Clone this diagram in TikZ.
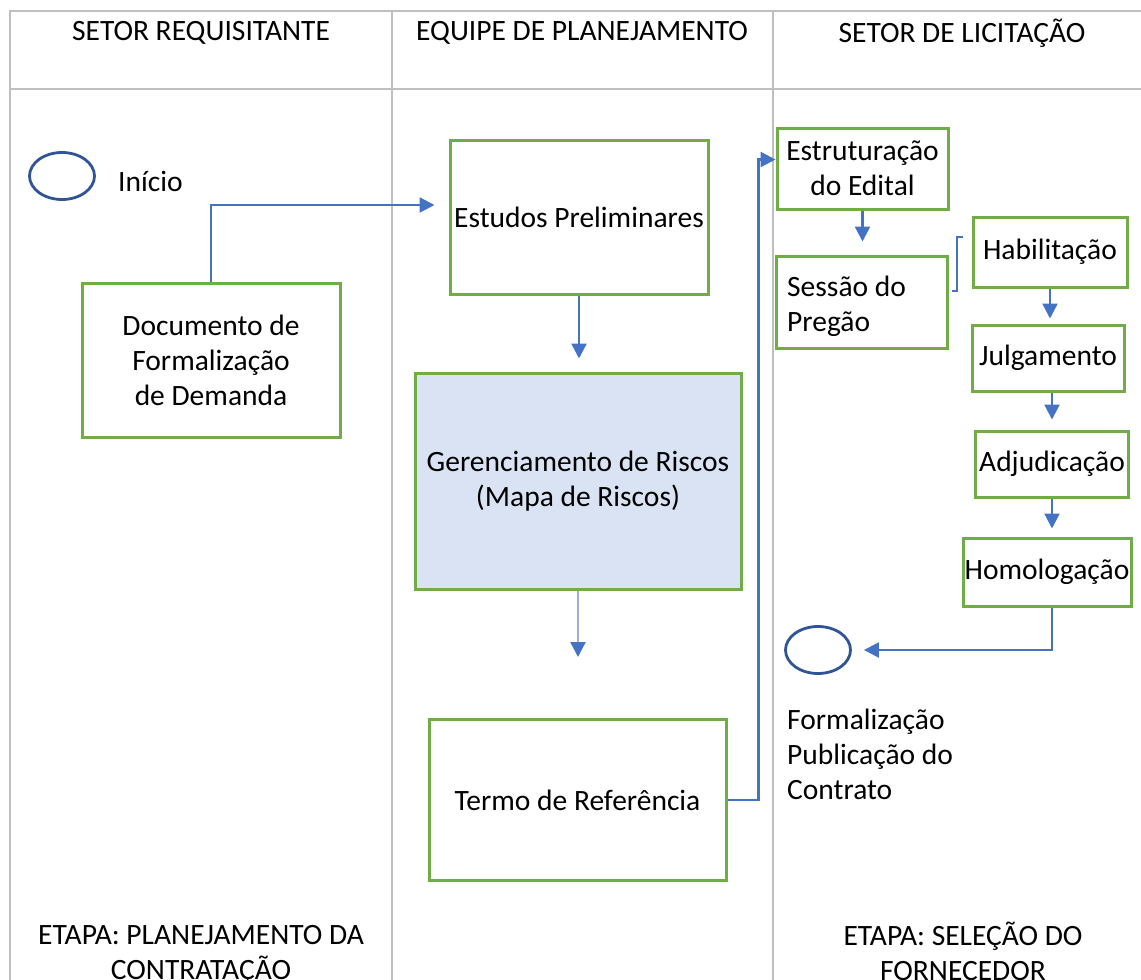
\documentclass[tikz,border=0pt]{standalone}
\usepackage{fontspec}
\setmainfont{Carlito}
\usetikzlibrary{shapes.geometric}
\usetikzlibrary{arrows.meta}
\usetikzlibrary{positioning}
\usetikzlibrary{calc}

\definecolor{boxgreen}{RGB}{112,173,71}
\definecolor{arrowblue}{RGB}{68,114,196}
\definecolor{ovalblue}{RGB}{47,85,151}
\definecolor{riskfill}{RGB}{218,227,243}
\definecolor{lanegray}{RGB}{191,191,191}

\begin{document}
\begin{tikzpicture}[
                x=1pt, y=-1pt,
                every node/.style={font=\fontsize{29.5}{35}\selectfont, align=center},
                stepbox/.style={draw=boxgreen, line width=3pt, inner sep=0pt},
                terminal/.style={draw=ovalblue, line width=2.8pt, ellipse, minimum width=65pt, minimum height=47pt},
                flow/.style={draw=arrowblue, line width=2.4pt, -{Triangle[length=15pt,width=15pt]}},
                lane/.style={draw=lanegray, line width=2.2pt}
            ]

            \useasboundingbox (0,0) rectangle (1141,980);

            % Swimlane grid
            \draw[lane] (1141,11) -- (10,11) -- (10,980);
            \draw[lane] (10,89) -- (1141,89);
            \draw[lane] (392,11) -- (392,980);
            \draw[lane] (773,11) -- (773,980);

            % Lane headers
            \node (lane1) at (201,33) {SETOR REQUISITANTE};
            \node (lane2) at (582,33) {EQUIPE DE PLANEJAMENTO};
            \node (lane3) at (962,33) {SETOR DE LICITAÇÃO};

            % Define nodes
            \node[terminal] (inicio) at (62,176) {};
            \node[right=22pt of inicio, inner sep=0pt, yshift=-5pt] (inicioText) {Início};
            \node[stepbox, minimum width=258pt, minimum height=154pt] (dfd) at (211,360) {Documento de\\Formalização\\de Demanda};
            \node[stepbox, minimum width=258pt, minimum height=154pt] (estudos) at (579,217) {Estudos Preliminares};
            \node[stepbox, fill=riskfill, minimum width=326pt, minimum height=216pt] (riscos) at (578,481) {Gerenciamento de Riscos\\(Mapa de Riscos)};
            \node[stepbox, minimum width=297pt, minimum height=161pt] (termo) at (577.5,800) {Termo de Referência};
            \node[stepbox, minimum width=171pt, minimum height=81pt] (edital) at (862.5,168.5) {Estruturação\\do Edital};
            \node[stepbox, minimum width=171pt, minimum height=92pt] (sessao) at (861.5,302) {};
            \node[align=left, anchor=west, inner sep=0pt] (sessaoText) at (787,306) {Sessão do\\Pregão};
            \node[stepbox, minimum width=154pt, minimum height=70pt] (habil) at (1050,252) {Habilitação};
            \node[stepbox, minimum width=152pt, minimum height=66pt] (julg) at (1048,358) {Julgamento};
            \node[stepbox, minimum width=153pt, minimum height=66pt] (adjud) at (1052,464) {Adjudicação};
            \node[stepbox, minimum width=168pt, minimum height=68pt] (homol) at (1047,572) {Homologação};
            \node[terminal] (fim) at (818,650) {};
            \node[align=left, anchor=west, inner sep=0pt] (fimText) at (787,754) {Formalização\\Publicação do\\Contrato};

            % Stage labels
            \node (etapa1) at (201,955) {ETAPA: PLANEJAMENTO DA\\CONTRATAÇÃO};
            \node (etapa2) at (963,951) {ETAPA: SELEÇÃO DO\\FORNECEDOR};

            % Bracket beside the session
            \draw[arrowblue, line width=1.3pt] (963,237) -- (957,237) -- (957,291) -- (952,291);

            % Arrows connecting boxes
            \draw[flow, shorten >=14pt] (dfd.north) |- ([yshift=12pt]estudos.west);
            \draw[flow, shorten >=13pt] (estudos.south) -- (estudos.south |- riscos.north);
            \draw[flow, draw=arrowblue!55, -{Triangle[length=15pt,width=15pt,color=arrowblue]}, shorten >=61pt] (riscos.south) -- (riscos.south |- termo.north);
            \draw[flow] (termo.east) -- ++(31,0) |- ([yshift=9pt]edital.west);
            \draw[flow, shorten >=13pt] (edital.south) -- (edital.south |- sessao.north);
            \draw[flow, shorten >=5pt] (habil.south) -- (habil.south |- julg.north);
            \draw[flow, shorten >=10pt] (adjud.north |- julg.south) -- (adjud.north);
            \draw[flow, shorten >=8pt] (adjud.south) -- (adjud.south |- homol.north);
            \draw[flow, shorten >=12pt] ([xshift=5pt]homol.south) |- (fim.east);

        \end{tikzpicture}
\end{document}
